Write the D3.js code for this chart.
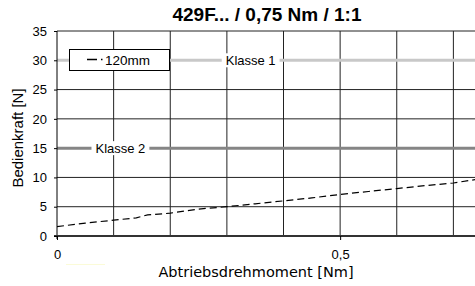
<!DOCTYPE html>
<html>
<head>
<meta charset="utf-8">
<script src="https://cdn.jsdelivr.net/npm/d3@7"></script>
<style>
body { margin: 0; background: #fff; }
text { font-family: Arial, "Liberation Sans", sans-serif; }
</style>
</head>
<body>
<div id="chart"></div>
<script>
var title = "429F... / 0,75 Nm / 1:1";
var seriesName = "120mm";
var torque = [0, 0.05, 0.1, 0.14, 0.16, 0.2, 0.25, 0.3, 0.35, 0.4, 0.45, 0.5, 0.55, 0.6, 0.65, 0.7, 0.75];
var force  = [1.6, 2.2, 2.7, 3.1, 3.6, 3.9, 4.6, 5.0, 5.5, 6.0, 6.5, 7.1, 7.6, 8.1, 8.6, 9.05, 9.8];
var yTicks = [0, 5, 10, 15, 20, 25, 30, 35];
var xTicks = [0, 0.5];
var xGrid = [0.1, 0.2, 0.3, 0.4, 0.5, 0.6, 0.7];
var classes = [
	{name: "Klasse 1", value: 30, color: "#c8c8c8", labelAt: 0.342},
	{name: "Klasse 2", value: 15, color: "#858585", labelAt: 0.112}
];

var width = 475, height = 286;
var svg = d3.select('#chart').append('svg')
	.attr('width', width)
	.attr('height', height);

var x = d3.scaleLinear().domain([0, 0.8]).range([57, 510]);
var y = d3.scaleLinear().domain([0, 35]).range([236, 31]);

// grid
svg.append('g').selectAll('line')
	.data(xGrid).enter().append('line')
	.attr('x1', d => x(d)).attr('x2', d => x(d))
	.attr('y1', y(35)).attr('y2', y(0))
	.attr('stroke', '#222').attr('stroke-width', 1);
svg.append('g').selectAll('line')
	.data(yTicks.filter(d => d != 0)).enter().append('line')
	.attr('x1', x(0)).attr('x2', width)
	.attr('y1', d => y(d)).attr('y2', d => y(d))
	.attr('stroke', '#222').attr('stroke-width', 1);

// class lines with labels
classes.forEach(function(c) {
	var g = svg.append('g');
	g.append('line')
		.attr('x1', x(0)).attr('x2', width)
		.attr('y1', y(c.value)).attr('y2', y(c.value))
		.attr('stroke', c.color).attr('stroke-width', 3);
	var bg = g.append('rect').attr('fill', '#fff');
	var t = g.append('text')
		.attr('x', x(c.labelAt)).attr('y', y(c.value) + 4.5)
		.attr('text-anchor', 'middle')
		.attr('font-size', 13)
		.text(c.name);
	var bb = t.node().getBBox();
	bg.attr('x', bb.x - 4).attr('y', y(c.value) - 7)
		.attr('width', bb.width + 8).attr('height', 14);
});

// axes
svg.append('line')
	.attr('x1', x(0)).attr('x2', x(0)).attr('y1', y(35)).attr('y2', y(0) + 3)
	.attr('stroke', '#000');
svg.append('line')
	.attr('x1', x(0) - 3).attr('x2', width).attr('y1', y(0)).attr('y2', y(0))
	.attr('stroke', '#333').attr('stroke-width', 2);

var yAxis = d3.axisLeft(y).tickValues(yTicks).tickSize(3).tickFormat(d3.format('d'));
var gy = svg.append('g').attr('transform', 'translate(' + x(0) + ',0)').call(yAxis);
gy.select('.domain').remove();
gy.selectAll('text').attr('font-size', 13).attr('fill', '#000').attr('x', -10);

var xAxis = d3.axisBottom(x).tickValues(xTicks).tickSize(4)
	.tickFormat(d => d == 0 ? '0' : String(d).replace('.', ','));
var gx = svg.append('g').attr('transform', 'translate(0,' + y(0) + ')').call(xAxis);
gx.select('.domain').remove();
gx.selectAll('text').attr('font-size', 13).attr('fill', '#000').attr('y', 14);

// faint mark under the zero label
svg.append('line')
	.attr('x1', 66).attr('x2', 105).attr('y1', 264.5).attr('y2', 264.5)
	.attr('stroke', '#fbfbd8').attr('stroke-width', 1);

// data
var line = d3.line().x((d, i) => x(torque[i])).y(d => y(d));
svg.append('path')
	.datum(force)
	.attr('d', line)
	.attr('fill', 'none')
	.attr('stroke', '#000')
	.attr('stroke-width', 1.2)
	.attr('stroke-dasharray', '7,4');

// legend
svg.append('rect')
	.attr('x', 69.5).attr('y', 49.5).attr('width', 100).attr('height', 21)
	.attr('fill', '#fff').attr('stroke', '#000');
svg.append('line')
	.attr('x1', 87).attr('x2', 103).attr('y1', 59.5).attr('y2', 59.5)
	.attr('stroke', '#000').attr('stroke-width', 1.3).attr('stroke-dasharray', '10,4,1.5,10');
svg.append('text')
	.attr('x', 105).attr('y', 64.5)
	.attr('font-size', 13.5)
	.text(seriesName);

// titles
svg.append('text')
	.attr('x', 267).attr('y', 21)
	.attr('text-anchor', 'middle')
	.attr('font-size', 19).attr('font-weight', 'bold')
	.text(title);
svg.append('text')
	.attr('x', 256).attr('y', 277)
	.attr('text-anchor', 'middle')
	.attr('font-size', 14.5)
	.style('font-family', '"DejaVu Sans", sans-serif')
	.text("Abtriebsdrehmoment [Nm]");
svg.append('text')
	.attr('transform', 'translate(23,138) rotate(-90)')
	.attr('text-anchor', 'middle')
	.attr('font-size', 15)
	.text("Bedienkraft [N]");
</script>
</body>
</html>
